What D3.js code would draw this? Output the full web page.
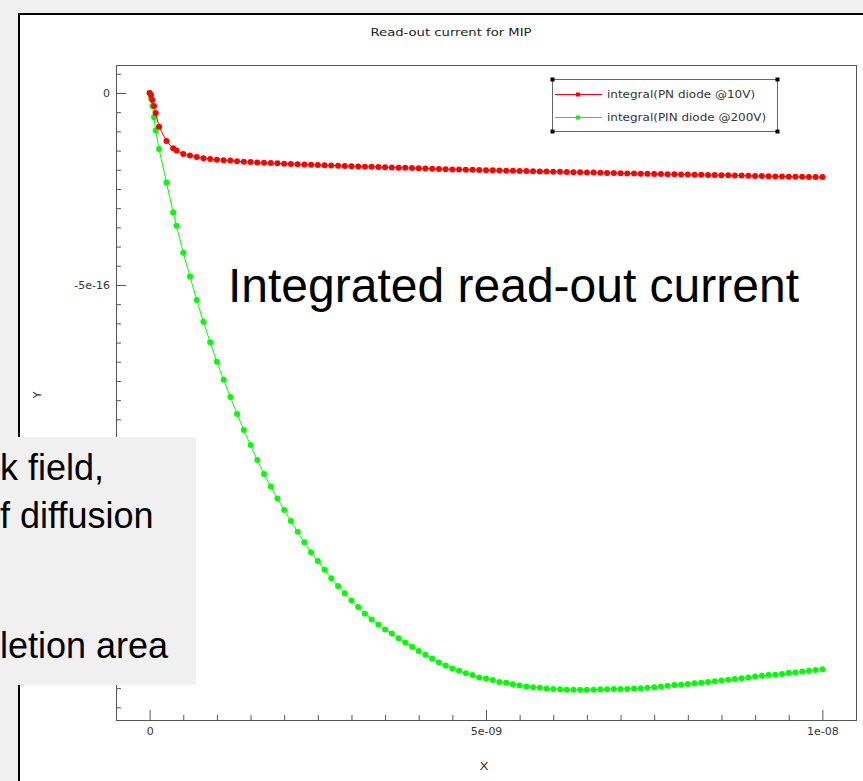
<!DOCTYPE html>
<html>
<head>
<meta charset="utf-8">
<script src="https://cdn.jsdelivr.net/npm/d3@7/dist/d3.min.js"></script>
<style>
  html, body { margin: 0; padding: 0; background: #f0f0f0; overflow: hidden; }
  svg { display: block; }
  .chart-text { font-family: "DejaVu Sans", sans-serif; fill: #333; }
  .slide-text { font-family: "Liberation Sans", Arial, sans-serif; fill: #000; }
</style>
</head>
<body>
<svg id="chart" width="863" height="781"></svg>
<script>
// Simulation time steps (ns)
const timeNs = [
  0, 0.02, 0.04, 0.065, 0.09, 0.14, 0.25, 0.35, 0.4,
  0.5, 0.6, 0.7, 0.8, 0.9, 1.0, 1.1, 1.2, 1.3, 1.4,
  1.5, 1.6, 1.7, 1.8, 1.9, 2.0, 2.1, 2.2, 2.3, 2.4,
  2.5, 2.6, 2.7, 2.8, 2.9, 3.0, 3.1, 3.2, 3.3, 3.4,
  3.5, 3.6, 3.7, 3.8, 3.9, 4.0, 4.1, 4.2, 4.3, 4.4,
  4.5, 4.6, 4.7, 4.8, 4.9, 5.0, 5.1, 5.2, 5.3, 5.4,
  5.5, 5.6, 5.7, 5.8, 5.9, 6.0, 6.1, 6.2, 6.3, 6.4,
  6.5, 6.6, 6.7, 6.8, 6.9, 7.0, 7.1, 7.2, 7.3, 7.4,
  7.5, 7.6, 7.7, 7.8, 7.9, 8.0, 8.1, 8.2, 8.3, 8.4,
  8.5, 8.6, 8.7, 8.8, 8.9, 9.0, 9.1, 9.2, 9.3, 9.4,
  9.5, 9.6, 9.7, 9.8, 9.9, 10.0
];

// Integrated read-out current (units of 1e-16)
const pnDiode10V = [
  0, -0.05, -0.18, -0.34, -0.52, -0.88, -1.25, -1.44, -1.50,
  -1.59, -1.63, -1.67, -1.70, -1.72, -1.74, -1.75, -1.76, -1.78, -1.79,
  -1.800, -1.808, -1.816, -1.824, -1.832, -1.840, -1.847, -1.854, -1.861, -1.868,
  -1.875, -1.881, -1.887, -1.894, -1.900, -1.906, -1.912, -1.918, -1.924, -1.929,
  -1.935, -1.940, -1.945, -1.950, -1.955, -1.960, -1.966, -1.972, -1.978, -1.984,
  -1.990, -1.994, -1.998, -2.002, -2.006, -2.010, -2.014, -2.018, -2.022, -2.026,
  -2.030, -2.034, -2.038, -2.042, -2.046, -2.050, -2.054, -2.058, -2.062, -2.066,
  -2.070, -2.074, -2.078, -2.082, -2.086, -2.090, -2.094, -2.098, -2.102, -2.106,
  -2.110, -2.113, -2.116, -2.119, -2.122, -2.125, -2.128, -2.131, -2.134, -2.137,
  -2.140, -2.144, -2.148, -2.152, -2.156, -2.160, -2.164, -2.168, -2.172, -2.176,
  -2.180, -2.182, -2.184, -2.186, -2.188, -2.190
];

const pinDiode200V = [
  0, -0.14, -0.34, -0.63, -0.98, -1.46, -2.33, -3.11, -3.46,
  -4.16, -4.78, -5.39, -5.96, -6.49, -7.00, -7.47, -7.92, -8.36, -8.78,
  -9.17, -9.56, -9.92, -10.25, -10.56, -10.86, -11.15, -11.43, -11.70, -11.96,
  -12.19, -12.42, -12.64, -12.84, -13.03, -13.22, -13.39, -13.56, -13.71, -13.84,
  -13.97, -14.08, -14.20, -14.31, -14.42, -14.53, -14.63, -14.73, -14.83, -14.91,
  -14.99, -15.05, -15.11, -15.16, -15.22, -15.25, -15.29, -15.34, -15.36, -15.40,
  -15.43, -15.46, -15.48, -15.49, -15.51, -15.52, -15.53, -15.54, -15.54, -15.54,
  -15.54, -15.54, -15.53, -15.53, -15.52, -15.52, -15.52, -15.51, -15.50, -15.49,
  -15.48, -15.46, -15.44, -15.42, -15.41, -15.39, -15.37, -15.36, -15.34, -15.32,
  -15.30, -15.28, -15.26, -15.24, -15.22, -15.20, -15.18, -15.16, -15.15, -15.13,
  -15.10, -15.09, -15.07, -15.05, -15.03, -15.01
];

const seriesNames = ["integral(PN diode @10V)", "integral(PIN diode @200V)"];
const seriesColors = ["#ff0000", "#00ff00"];

const xTickValues = [0, 5e-9, 1e-8];
const xTickLabels = ["0", "5e-09", "1e-08"];
const yTickValues = [0, -5e-16, -1e-15, -1.5e-15];
// the two lower labels sit under the note box, so only the visible ones are written
const yTickLabels = ["0", "-5e-16", "", ""];

const TIME_UNIT = 1e-9;
const CHARGE_UNIT = 1e-16;

const svg = d3.select("#chart");

// Page panel
svg.append("rect")
  .attr("x", 19).attr("y", 14).attr("width", 900).attr("height", 900)
  .attr("fill", "#fff").attr("stroke", "#000").attr("stroke-width", 2);

const plot = { left: 116, right: 856, top: 65, bottom: 720 };

const x = d3.scaleLinear().domain([-0.5e-9, 1.05e-8]).range([plot.left, plot.right]);
const y = d3.scaleLinear().domain([-1.633e-15, 0.0729e-15]).range([plot.bottom, plot.top]);

// Title (the plotting tool draws its labels slightly widened)
svg.append("text").attr("class", "chart-text")
  .attr("transform", "translate(451,36) scale(1.2,1)")
  .attr("text-anchor", "middle")
  .style("font-size", "11px").style("fill", "#222")
  .text("Read-out current for MIP");

// Axis labels
svg.append("text").attr("class", "chart-text")
  .attr("transform", "translate(484,770) scale(1.2,1)")
  .attr("text-anchor", "middle")
  .style("font-size", "11px")
  .text("X");
svg.append("text").attr("class", "chart-text")
  .attr("transform", "translate(41,395) rotate(-90)")
  .attr("text-anchor", "middle")
  .style("font-size", "11px")
  .text("Y");

// Minor ticks
const xMinor = d3.range(-5, 106, 5).map(d => d * 1e-10).filter(d => xTickValues.indexOf(d) < 0);
const yMinor = d3.range(0, 33).map(d => -d * 0.5e-16).concat([0.5e-16]);

svg.append("g")
  .attr("transform", `translate(0,${plot.bottom})`)
  .call(d3.axisBottom(x).tickValues(xMinor).tickSize(-5).tickFormat(""))
  .call(g => g.select(".domain").remove())
  .call(g => g.selectAll("line").attr("stroke", "#555"));

svg.append("g")
  .attr("transform", `translate(${plot.left},0)`)
  .call(d3.axisLeft(y).tickValues(yMinor).tickSize(-5).tickFormat(""))
  .call(g => g.select(".domain").remove())
  .call(g => g.selectAll("line").attr("stroke", "#555"));

// Major ticks with labels
svg.append("g")
  .attr("transform", `translate(0,${plot.bottom})`)
  .call(d3.axisBottom(x).tickValues(xTickValues).tickSize(-10).tickPadding(7)
    .tickFormat((d, i) => xTickLabels[i]))
  .call(g => g.select(".domain").remove())
  .call(g => g.selectAll("line").attr("stroke", "#555"))
  .call(g => g.selectAll("text").attr("class", "chart-text")
    .style("font-size", "11px").attr("fill", null));

svg.append("g")
  .attr("transform", `translate(${plot.left},0)`)
  .call(d3.axisLeft(y).tickValues(yTickValues).tickSize(-10).tickPadding(6)
    .tickFormat((d, i) => yTickLabels[i]))
  .call(g => g.select(".domain").remove())
  .call(g => g.selectAll("line").attr("stroke", "#555"))
  .call(g => g.selectAll("text").attr("class", "chart-text")
    .style("font-size", "11px").attr("fill", null));

// Plot frame
svg.append("rect")
  .attr("x", plot.left + 0.5).attr("y", plot.top + 0.5)
  .attr("width", plot.right - plot.left).attr("height", plot.bottom - plot.top)
  .attr("fill", "none").attr("stroke", "#555").attr("stroke-width", 1);

// Series
const seriesData = [pnDiode10V, pinDiode200V].map(vals =>
  vals.map((v, i) => ({ t: timeNs[i] * TIME_UNIT, q: v * CHARGE_UNIT })));

const line = d3.line().x(d => x(d.t)).y(d => y(d.q));

// draw the PIN curve first so the PN curve sits on top where they overlap
[1, 0].forEach(k => {
  const g = svg.append("g");
  g.append("path").datum(seriesData[k])
    .attr("d", line).attr("fill", "none")
    .attr("stroke", seriesColors[k]).attr("stroke-width", 1);
  g.selectAll("circle").data(seriesData[k]).join("circle")
    .attr("cx", d => x(d.t)).attr("cy", d => y(d.q)).attr("r", 3)
    .attr("fill", seriesColors[k]);
});

// Legend
const lg = svg.append("g");
lg.append("rect").attr("x", 552.5).attr("y", 79.5).attr("width", 225).attr("height", 52)
  .attr("fill", "#fff").attr("stroke", "#666").attr("stroke-width", 1);
[[552, 79], [777, 79], [552, 131], [777, 131]].forEach(([cx, cy]) => {
  lg.append("rect").attr("x", cx - 1.5).attr("y", cy - 1.5).attr("width", 4).attr("height", 4)
    .attr("fill", "#000");
});
seriesNames.forEach((name, i) => {
  const ly = 94 + i * 23;
  lg.append("line").attr("x1", 555).attr("x2", 602).attr("y1", ly + 0.5).attr("y2", ly + 0.5)
    .attr("stroke", seriesColors[i]).attr("stroke-width", 1);
  lg.append("rect").attr("x", 576).attr("y", ly - 1.5).attr("width", 4).attr("height", 4)
    .attr("fill", seriesColors[i]);
  lg.append("text").attr("class", "chart-text")
    .attr("transform", `translate(607,${ly + 4}) scale(1.2,1)`)
    .style("font-size", "10px")
    .text(name);
});

// Slide annotations
svg.append("text").attr("class", "slide-text")
  .attr("x", 228).attr("y", 302)
  .style("font-size", "48px")
  .text("Integrated read-out current");

const note = svg.append("g");
note.append("rect").attr("x", -10).attr("y", 437).attr("width", 206).attr("height", 248)
  .attr("fill", "#f0f0f0");
[["k field,", 480], ["f diffusion", 528], ["letion area", 658]].forEach(([t, by]) => {
  note.append("text").attr("class", "slide-text")
    .attr("x", 0).attr("y", by)
    .style("font-size", "36px")
    .text(t);
});
</script>
</body>
</html>
